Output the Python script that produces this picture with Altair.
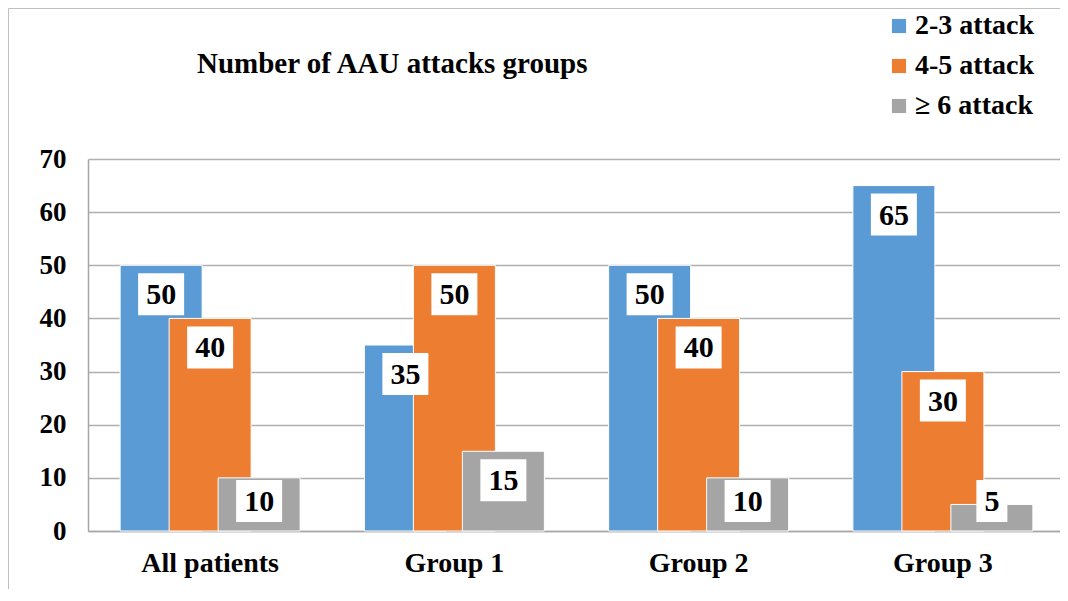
import altair as alt
import pandas as pd

categories = ["All patients", "Group 1", "Group 2", "Group 3"]
series_names = ["2-3 attack", "4-5 attack", "\u2265 6 attack"]
s_2_3 = [50, 35, 50, 65]
s_4_5 = [40, 50, 40, 30]
s_6 = [10, 15, 10, 5]
colors = ["#5B9BD5", "#ED7D31", "#A5A5A5"]
title_text = "Number of AAU attacks groups"

rows = []
for name, vals in zip(series_names, [s_2_3, s_4_5, s_6]):
    for c, v in zip(categories, vals):
        rows.append({"category": c, "series": name, "value": v, "label": str(v)})
df = pd.DataFrame(rows)

FONT = "Liberation Serif"
offsets = [-49, 0, 49]
BAR_W = 82

x_scale = alt.Scale(paddingInner=0, paddingOuter=0, range=[0, 977])
x_enc = alt.X("category:N", sort=categories, title=None, scale=x_scale,
              axis=alt.Axis(labelAngle=0, labelFontSize=28, labelFontWeight="bold",
                            labelFont=FONT, labelColor="black", labelPadding=18,
                            ticks=False, domainColor="#a6a6a6", domainWidth=1.5))
y_scale = alt.Scale(domain=[0, 70])
y_axis = alt.Axis(values=list(range(0, 71, 10)), labelFontSize=27, labelFontWeight="bold",
                  labelFont=FONT, labelColor="black", labelPadding=22, ticks=False,
                  gridColor="#b0b0b0", gridWidth=1.5, domainColor="#a6a6a6", domainWidth=1.5,
                  title=None)

base = alt.Chart(df)
color_enc = alt.Color("series:N", sort=series_names,
                      scale=alt.Scale(domain=series_names, range=colors),
                      legend=alt.Legend(title=None, orient="none", legendX=797, legendY=-147,
                                        symbolType="square", symbolSize=200, symbolStrokeWidth=0,
                                        labelFontSize=28, labelFontWeight="bold", labelFont=FONT,
                                        labelColor="black", rowPadding=12, labelOffset=2,
                                        labelLimit=300))

layers = []
for i, name in enumerate(series_names):
    layers.append(
        base.transform_filter(alt.datum.series == name)
        .mark_bar(width=BAR_W, xOffset=offsets[i], stroke="white", strokeWidth=1)
        .encode(x=x_enc,
                y=alt.Y("value:Q", scale=y_scale, axis=y_axis, title=None),
                color=color_enc)
    )

for i, name in enumerate(series_names):
    lab = (base.transform_filter(alt.datum.series == name)
           .transform_calculate(ly="max(datum.value - 5.46, 5.65)")
           .transform_calculate(lo="datum.ly - 3.95", hi="datum.ly + 3.95",
                                bw="length(datum.label) * 15 + 16"))
    layers.append(
        lab.mark_bar(xOffset=offsets[i], color="white")
        .encode(x=alt.X("category:N", sort=categories, scale=x_scale),
                y=alt.Y("lo:Q", scale=y_scale, axis=y_axis), y2="hi:Q",
                size=alt.Size("bw:Q", scale=None, legend=None))
    )
    layers.append(
        lab.mark_text(xOffset=offsets[i], font=FONT, fontSize=30, fontWeight="bold",
                      color="black", baseline="middle", dy=1)
        .encode(x=alt.X("category:N", sort=categories, scale=x_scale),
                y=alt.Y("ly:Q", scale=y_scale, axis=y_axis), text="label:N")
    )

one = pd.DataFrame({"t": [title_text]})
frame_left = alt.Chart(one).mark_rule(color="#c0c0c0", strokeWidth=1).encode(
    x=alt.value(-79.5), y=alt.value(-150.5), y2=alt.value(440))
frame_top = alt.Chart(one).mark_rule(color="#c0c0c0", strokeWidth=1).encode(
    x=alt.value(-79.5), x2=alt.value(980), y=alt.value(-150.5))
title_mark = alt.Chart(one).mark_text(font=FONT, fontSize=29, fontWeight="bold", color="black",
                                      align="left", baseline="alphabetic").encode(
    x=alt.value(109), y=alt.value(-86), text="t:N")

chart = alt.layer(frame_left, frame_top, title_mark, *layers).properties(
    width=972, height=372,
    background="white",
    autosize=alt.AutoSizeParams(type="none"),
    padding={"left": 80, "top": 151, "right": 0, "bottom": 58},
).configure_view(stroke=None)

chart.save("out.html", embed_options={"renderer": "svg", "actions": False})
